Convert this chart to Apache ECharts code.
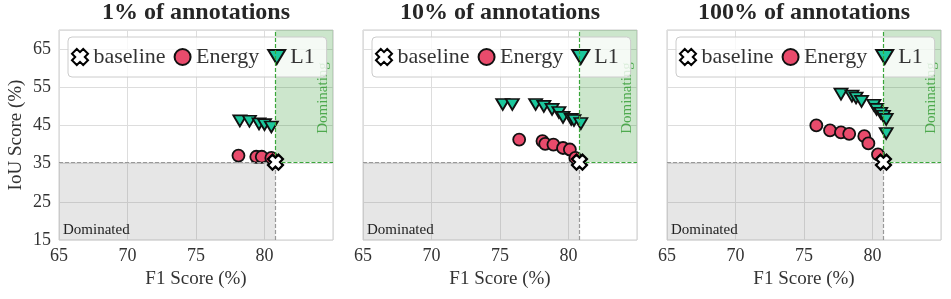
<!DOCTYPE html>
<html><head><meta charset="utf-8">
<script src="https://cdn.jsdelivr.net/npm/echarts@6/dist/echarts.min.js"></script>
<style>html,body{margin:0;padding:0;background:#fff}#c{width:951px;height:299px}</style>
</head><body><div id="c"></div>
<script>
// ---- data ----
const titles = ['1% of annotations', '10% of annotations', '100% of annotations'];
const seriesNames = ['baseline', 'Energy', 'L1'];
const xMin = 65, xMax = 85, xStep = 5;
const yMin = 15, yMax = 70, yStep = 10;
const xName = 'F1 Score (%)';
const yName = 'IoU Score (%)';
const baseline = [80.8, 35.4];
const energy1 = [[78.1, 37.1], [79.4, 36.8], [79.8, 36.8], [80.5, 36.5]];
const l1_1 = [[78.2, 46.2], [78.9, 46.1], [79.6, 45.4], [80.0, 45.2], [80.5, 44.6]];
const energy2 = [[76.4, 41.3], [78.1, 40.9], [78.3, 40.2], [78.9, 40.0], [79.6, 39.1], [80.1, 38.7], [80.5, 36.5]];
const l1_2 = [[75.2, 50.5], [75.9, 50.5], [77.6, 50.5], [78.2, 50.0], [78.8, 49.2], [79.3, 48.4], [79.6, 47.1], [80.2, 46.6], [80.4, 46.3], [80.9, 45.5]];
const energy3 = [[75.9, 45.0], [76.9, 43.7], [77.7, 43.2], [78.3, 42.8], [79.4, 42.2], [79.7, 40.3], [80.4, 37.4]];
const l1_3 = [[77.7, 53.2], [78.5, 52.7], [78.8, 52.2], [79.2, 51.3], [80.1, 50.3], [80.3, 49.2], [80.6, 48.2], [80.8, 47.4], [81.0, 46.6], [81.0, 42.9]];
const dominatedText = 'Dominated';
const dominatingText = 'Dominating';
const dominatingAnchor = [84.25, 52.2];

// ---- chart ----
const energyAll = [energy1, energy2, energy3];
const l1All = [l1_1, l1_2, l1_3];
const FONT = 'Liberation Serif';
const TXT = '#333';
const xPath = 'path://M3,0L5,2L7,0L10,3L8,5L10,7L7,10L5,8L3,10L0,7L2,5L0,3Z';
const triPath = 'path://M0,0L12,0L6,10Z';
const gridLefts = [59, 363, 667];
const gridW = 274, gridTop = 30, gridH = 210;

const grid = [], xAxis = [], yAxis = [], series = [], title = [], legend = [];
for (let i = 0; i < 3; i++) {
  grid.push({left: gridLefts[i], top: gridTop, width: gridW, height: gridH,
    show: true, borderColor: '#cccccc', borderWidth: 1, backgroundColor: 'transparent'});
  title.push({text: titles[i], left: gridLefts[i] + gridW / 2, textAlign: 'center', top: 1, padding: 0,
    textStyle: {fontFamily: FONT, fontWeight: 'bold', fontSize: 24, color: '#262626'}});
  legend.push({data: seriesNames, left: gridLefts[i] + 9, top: 37, orient: 'horizontal',
    padding: [8, 12, 8, 3], itemGap: 8, itemWidth: 17, itemHeight: 16,
    backgroundColor: 'rgba(255,255,255,0.8)', borderColor: '#cccccc', borderWidth: 1, borderRadius: 4,
    selectedMode: false,
    textStyle: {fontFamily: FONT, fontSize: 22, color: TXT, lineHeight: 24}});
  xAxis.push({type: 'value', gridIndex: i, min: xMin, max: xMax, interval: xStep,
    name: xName, nameLocation: 'middle', nameGap: 29,
    nameTextStyle: {fontFamily: FONT, fontSize: 19, color: TXT},
    axisLine: {show: false}, axisTick: {show: false},
    axisLabel: {fontFamily: FONT, fontSize: 18, color: TXT, margin: 7, showMaxLabel: false},
    splitLine: {show: true, lineStyle: {color: '#dddddd', width: 1}}});
  yAxis.push({type: 'value', gridIndex: i, min: yMin, max: yMax, interval: yStep,
    name: i === 0 ? yName : '', nameLocation: 'middle', nameGap: 33,
    nameTextStyle: {fontFamily: FONT, fontSize: 19, color: TXT},
    axisLine: {show: false}, axisTick: {show: false},
    axisLabel: {show: i === 0, fontFamily: FONT, fontSize: 18, color: TXT, margin: 8, showMaxLabel: false},
    splitLine: {show: true, lineStyle: {color: '#dddddd', width: 1}}});

  const bx = baseline[0], by = baseline[1];
  const gray = {color: '#999999', type: [4, 2], width: 1.2};
  const green = {color: '#3aa63a', type: [4, 2], width: 1.2};
  series.push({type: 'scatter', name: 'regions', xAxisIndex: i, yAxisIndex: i, data: [], z: 1, silent: true,
    markArea: {silent: true, data: [
      [{coord: [xMin, yMin], itemStyle: {color: 'rgba(128,128,128,0.2)'},
        label: {show: true, formatter: dominatedText, position: 'insideBottomLeft', distance: 3, offset: [1, 1],
          fontFamily: FONT, fontSize: 15, color: '#222'}},
       {coord: [bx, by]}],
      [{coord: [bx, by], itemStyle: {color: 'rgba(0,128,0,0.2)'}, label: {show: false}},
       {coord: [xMax, yMax]}]
    ]},
    markLine: {silent: true, symbol: ['none', 'none'], label: {show: false}, animation: false, data: [
      [{coord: [xMin, by], lineStyle: gray}, {coord: [bx, by]}],
      [{coord: [bx, yMin], lineStyle: gray}, {coord: [bx, by]}],
      [{coord: [bx, by], lineStyle: green}, {coord: [bx, yMax]}],
      [{coord: [bx, by], lineStyle: green}, {coord: [xMax, by]}]
    ]}});
  series.push({type: 'scatter', name: 'note', xAxisIndex: i, yAxisIndex: i, silent: true, z: 1,
    data: [dominatingAnchor], symbolSize: 1, itemStyle: {color: 'transparent'},
    label: {show: true, formatter: dominatingText, position: 'inside', rotate: 90,
      fontFamily: FONT, fontSize: 15, color: '#2e9a2e'}});
  series.push({type: 'scatter', name: 'Energy', xAxisIndex: i, yAxisIndex: i, data: energyAll[i],
    symbol: 'circle', symbolSize: 12, z: 3,
    itemStyle: {color: '#e94b6c', borderColor: '#111', borderWidth: 1.8, opacity: 1}});
  series.push({type: 'scatter', name: 'L1', xAxisIndex: i, yAxisIndex: i, data: l1All[i],
    symbol: triPath, symbolSize: [13, 11], z: 3,
    itemStyle: {color: '#1cc89d', borderColor: '#111', borderWidth: 1.8, opacity: 1}});
  series.push({type: 'scatter', name: 'baseline', xAxisIndex: i, yAxisIndex: i, data: [baseline],
    symbol: xPath, symbolSize: 15, z: 5,
    itemStyle: {color: '#ffffff', borderColor: '#000', borderWidth: 2.2, opacity: 1}});
}

const chart = echarts.init(document.getElementById('c'), null, {renderer: 'canvas'});
chart.setOption({animation: false, backgroundColor: '#ffffff', title, legend, grid, xAxis, yAxis, series});
</script></body></html>
